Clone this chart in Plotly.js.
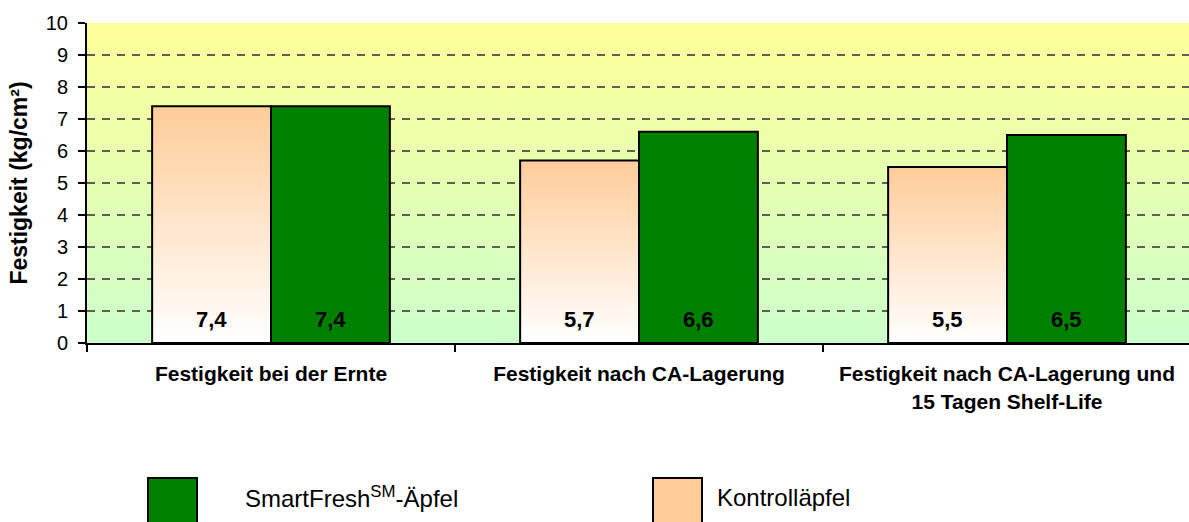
<!DOCTYPE html>
<html>
<head>
<meta charset="utf-8">
<script src="https://cdn.plot.ly/plotly-3.0.1.min.js"></script>
<style>
html,body{margin:0;padding:0;background:#fff;}
#chart{width:1189px;height:522px;}
</style>
</head>
<body>
<div id="chart"></div>
<script>
// ---- data ----
var categories = [
  "Festigkeit bei der Ernte",
  "Festigkeit nach CA-Lagerung",
  "Festigkeit nach CA-Lagerung und<br>15 Tagen Shelf-Life"
];
var kontrollValues = [7.4, 5.7, 5.5];
var smartFreshValues = [7.4, 6.6, 6.5];
var seriesNames = ["SmartFresh<sup>SM</sup>-Äpfel", "Kontrolläpfel"];
var yTickValues = [0,1,2,3,4,5,6,7,8,9,10];
var yTitle = "Festigkeit (kg/cm²)";

// ---- style ----
var FONT = '"Liberation Sans", Arial, Helvetica, sans-serif';
var GREEN = '#008000';
var PEACH = '#FFCC99';
var barW = 0.323;
var ML = 87, MT = 23, MB = 179, MR = 0;
var W = 1189, H = 522;
var PW = W - ML - MR, PH = H - MT - MB;
var xRange = [-0.5, -0.5 + PW / 368];

function fmt(v){ return v.toFixed(1).replace('.', ','); }
function pxX(px){ return (px - ML) / PW; }
function pxY(py){ return (H - MB - py) / PH; }

// background gradient image
var cv = document.createElement('canvas');
cv.width = 4; cv.height = 320;
var ctx = cv.getContext('2d');
var g = ctx.createLinearGradient(0,0,0,320);
g.addColorStop(0, '#FFFF99');
g.addColorStop(1, '#CCFFCC');
ctx.fillStyle = g; ctx.fillRect(0,0,4,320);
var bgURL = cv.toDataURL('image/png');

var idx = categories.map(function(_, i){ return i; });
var traces = [];

// SmartFresh bars (right of each category center)
traces.push({
  type: 'bar',
  x: idx,
  y: smartFreshValues,
  width: barW,
  offset: 0,
  marker: {color: GREEN, line: {color: '#000', width: 2}},
  hoverinfo: 'y',
  showlegend: false
});

// Kontroll bars as gradient-filled polygons (left of center)
kontrollValues.forEach(function(v, i){
  traces.push({
    type: 'scatter',
    mode: 'lines',
    x: [i - barW, i, i, i - barW, i - barW],
    y: [0, 0, v, v, 0],
    fill: 'toself',
    fillgradient: {type: 'vertical', colorscale: [[0, '#FFFFFF'], [1, PEACH]]},
    line: {color: '#000', width: 2},
    hoverinfo: 'skip',
    showlegend: false
  });
});

var annotations = [];
function valueLabel(x, v){
  return {x: x, y: 0, xref: 'x', yref: 'y', text: fmt(v),
    showarrow: false, yanchor: 'middle', yshift: 24,
    font: {family: FONT, size: 22, color: '#000', weight: 'bold'}};
}
kontrollValues.forEach(function(v, i){ annotations.push(valueLabel(i - barW/2, v)); });
smartFreshValues.forEach(function(v, i){ annotations.push(valueLabel(i + barW/2, v)); });

// legend
var legendColors = [GREEN, PEACH];
var swatchX = [148, 653];
var textX = [243, 715];
var shapes = [];
seriesNames.forEach(function(n, k){
  shapes.push({type: 'rect', xref: 'paper', yref: 'paper',
    x0: pxX(swatchX[k]), x1: pxX(swatchX[k] + 49), y0: pxY(478), y1: pxY(540),
    fillcolor: legendColors[k], line: {color: '#000', width: 2}});
  annotations.push({xref: 'paper', yref: 'paper', x: pxX(textX[k]), y: pxY(497),
    xanchor: 'left', yanchor: 'middle', showarrow: false, text: n,
    font: {family: FONT, size: 24, color: '#000'}});
});

var layout = {
  width: W, height: H,
  margin: {l: ML, r: MR, t: MT, b: MB, autoexpand: false},
  paper_bgcolor: '#fff',
  plot_bgcolor: 'rgba(0,0,0,0)',
  showlegend: false,
  font: {family: FONT, color: '#000'},
  images: [{source: bgURL, xref: 'paper', yref: 'paper', x: 0, y: 1,
    sizex: 1, sizey: 1, sizing: 'stretch', xanchor: 'left', yanchor: 'top', layer: 'below'}],
  xaxis: {
    range: xRange, fixedrange: true,
    tickmode: 'array', tickvals: idx, ticktext: categories,
    ticks: '', showgrid: false, zeroline: false,
    showline: true, linecolor: '#000', linewidth: 2,
    tickfont: {family: FONT, size: 21, color: '#000', weight: 'bold'},
    ticklabelstandoff: 11,
    minor: {tickmode: 'array', tickvals: [-0.5, 0.5, 1.5, 2.5], ticks: 'outside',
      ticklen: 7, tickwidth: 2, tickcolor: '#000', showgrid: false}
  },
  yaxis: {
    range: [0, 10], fixedrange: true,
    tickmode: 'array', tickvals: yTickValues,
    ticks: 'outside', ticklen: 7, tickwidth: 2, tickcolor: '#000',
    showline: true, linecolor: '#000', linewidth: 2,
    showgrid: true, gridcolor: '#5f5f52', gridwidth: 1.5, griddash: '8px,7px',
    zeroline: false,
    tickfont: {family: FONT, size: 20, color: '#000'},
    ticklabelstandoff: 6,
    title: {text: yTitle, standoff: 12, font: {family: FONT, size: 23, color: '#000', weight: 'bold'}}
  },
  shapes: shapes,
  annotations: annotations
};

Plotly.newPlot('chart', traces, layout, {staticPlot: true, displayModeBar: false});
</script>
</body>
</html>
